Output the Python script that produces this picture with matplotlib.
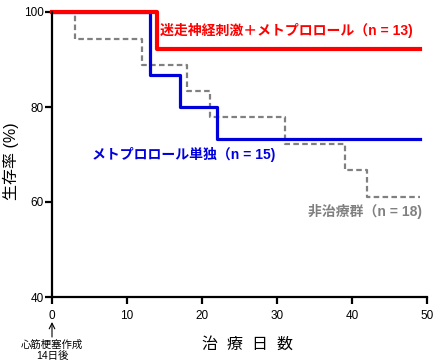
import numpy as np
import matplotlib.pyplot as plt

plt.rcParams['font.family'] = ['Liberation Sans', 'Noto Sans CJK JP', 'DejaVu Sans']

# 生存曲線（日, 生存率%）
vns_days = [0, 14, 49]
vns_surv = [100, 92.3, 92.3]
meto_days = [0, 13, 17, 22, 49]
meto_surv = [100, 86.7, 80.0, 73.3, 73.3]
ctrl_days = [0, 3, 12, 18, 21, 31, 39, 42, 49]
ctrl_surv = [100, 94.4, 88.9, 83.3, 77.8, 72.2, 66.7, 61.1, 61.1]

labels = ['迷走神経刺激＋メトプロロール（n = 13)', 'メトプロロール単独（n = 15)', '非治療群（n = 18)']
xticks = [0, 10, 20, 30, 40, 50]
yticks = [40, 60, 80, 100]

fig = plt.figure(figsize=(4.4, 3.64), dpi=100)
ax = fig.add_axes([52 / 440, 67 / 364, 375 / 440, 285 / 364])

ax.step(ctrl_days, ctrl_surv, where='post', color='#808080', lw=1.6,
        dashes=(2.5, 1.5), clip_on=False)
ax.step(meto_days, meto_surv, where='post', color='#0000dd', lw=2.3, clip_on=False)
ax.step(vns_days, vns_surv, where='post', color='#ff0000', lw=3, clip_on=False)

ax.text(14.4, 96.2, labels[0], color='#ff0000', fontsize=10, fontweight='bold', va='center')
ax.text(5.3, 69.9, labels[1], color='#0000dd', fontsize=10, fontweight='bold', va='center')
ax.text(34.1, 58.1, labels[2], color='#808080', fontsize=10, fontweight='bold', va='center')

ax.set_xlim(0, 50)
ax.set_ylim(40, 100)
ax.set_xticks(xticks)
ax.set_yticks(yticks)
for s in ['top', 'right']:
    ax.spines[s].set_visible(False)
for s in ['left', 'bottom']:
    ax.spines[s].set_linewidth(1.6)
ax.tick_params(direction='out', length=5, width=1.6, labelsize=8.5)
ax.tick_params(axis='x', pad=4.5)
ax.tick_params(axis='y', pad=1)

fig.text(11 / 440, 1 - 161 / 364, '生存率 (%)', fontsize=11.5, rotation=90,
         ha='center', va='center')
fig.text(247 / 440, 1 - 344 / 364, '治  療  日  数', fontsize=11.5, ha='center', va='center')

ax.annotate('', xy=(0, 40 - 25 / 4.75), xytext=(0, 40 - 40 / 4.75),
            arrowprops=dict(arrowstyle='->', color='black', lw=0.8, shrinkA=0, shrinkB=0),
            annotation_clip=False)
fig.text(52 / 440, 1 - 350 / 364, '心筋梗塞作成\n14日後', fontsize=7.5, ha='center', va='center',
         linespacing=1.1)

fig.savefig('out.png', dpi=100)
